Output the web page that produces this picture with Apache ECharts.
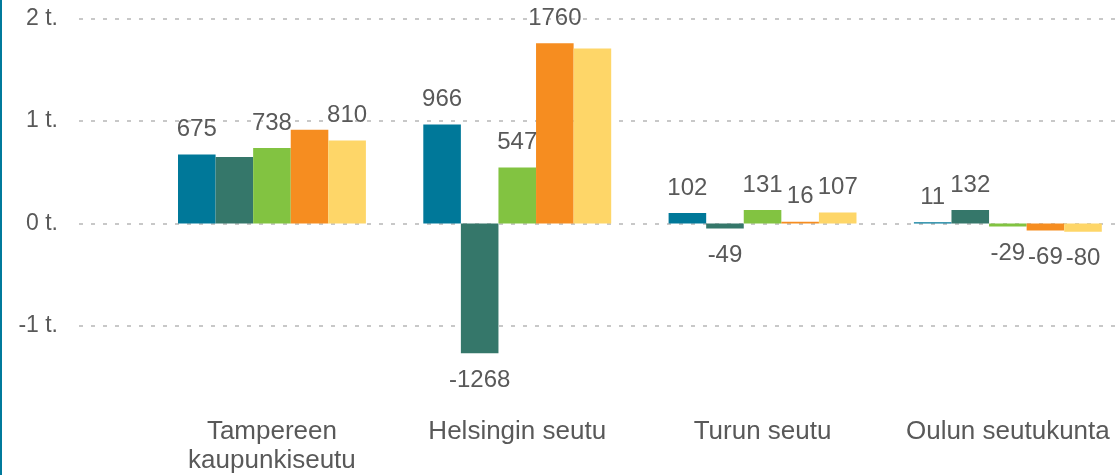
<!DOCTYPE html>
<html>
<head>
<meta charset="utf-8">
<script src="https://cdn.jsdelivr.net/npm/echarts/dist/echarts.min.js"></script>
<style>
  html, body { margin: 0; padding: 0; background: #ffffff; }
  #wrap { position: relative; width: 1120px; height: 475px; overflow: hidden; }
  #chart { width: 1120px; height: 475px; }
  #edge { position: absolute; left: 0; top: 0; width: 2px; height: 475px; background: #007a9c; }
</style>
</head>
<body>
<div id="wrap"><div id="chart"></div><div id="edge"></div></div>
<script>
// ---- data ----
const categories = ['Tampereen\nkaupunkiseutu', 'Helsingin seutu', 'Turun seutu', 'Oulun seutukunta'];
const seriesNames = ['Sarja 1', 'Sarja 2', 'Sarja 3', 'Sarja 4', 'Sarja 5'];
const values1 = [675, 966, 102, 11];
const values2 = [650, -1268, -49, 132];
const values3 = [738, 547, 131, -29];
const values4 = [915, 1760, 16, -69];
const values5 = [810, 1710, 107, -80];
const yTicks = [-2000, -1000, 0, 1000, 2000];
// labels not displayed in the reference: [seriesIndex, categoryIndex]
const hiddenLabels = [[1, 0], [3, 0], [4, 1]];

const allValues = [values1, values2, values3, values4, values5];
const colors = ['#007899', '#35776a', '#82c341', '#f68d20', '#fed668'];
const textColor = '#595959';
const fontFamily = "'Liberation Sans', Arial, sans-serif";

const yMin = yTicks[0], yMax = yTicks[yTicks.length - 1], yStep = yTicks[1] - yTicks[0];

function isHidden(s, c) {
  return hiddenLabels.some(p => p[0] === s && p[1] === c);
}

const barSeries = allValues.map((vals, s) => ({
  name: seriesNames[s],
  type: 'bar',
  xAxisIndex: 0,
  yAxisIndex: 0,
  barGap: '0%',
  barCategoryGap: '23.4%',
  itemStyle: { color: colors[s] },
  data: vals.map((v, c) => ({
    value: v,
    label: {
      show: !isHidden(s, c),
      position: v < 0 ? 'bottom' : 'top',
      distance: v < 0 ? 15 : 13
    }
  })),
  label: {
    color: textColor,
    fontSize: 24,
    fontFamily: fontFamily,
    formatter: p => String(p.value)
  }
}));

const gridTop = 18.7, gridBottom = 46.7;

const option = {
  animation: false,
  backgroundColor: '#ffffff',
  grid: [
    { left: 149.3, width: 981.2, top: gridTop, bottom: gridBottom, containLabel: false, outerBoundsMode: 'none' },
    { left: 79, right: 0, top: gridTop, bottom: gridBottom, containLabel: false, outerBoundsMode: 'none' }
  ],
  xAxis: [
    {
      type: 'category',
      gridIndex: 0,
      data: categories,
      axisLine: { show: false, onZero: false },
      axisTick: { show: false },
      splitLine: { show: false },
      axisLabel: {
        margin: -11,
        color: textColor,
        fontSize: 26,
        lineHeight: 29,
        fontFamily: fontFamily,
        interval: 0,
        hideOverlap: false
      }
    },
    { type: 'value', gridIndex: 1, show: false, min: 0, max: 1 }
  ],
  yAxis: [
    { type: 'value', gridIndex: 0, min: yMin, max: yMax, interval: yStep, show: false },
    {
      type: 'value',
      gridIndex: 1,
      min: yMin,
      max: yMax,
      interval: yStep,
      axisLine: { show: false },
      axisTick: { show: false },
      axisLabel: {
        showMinLabel: false,
        margin: 21,
        color: textColor,
        fontSize: 23,
        fontFamily: fontFamily,
        formatter: v => (v / 1000) + ' t.'
      },
      splitLine: {
        show: true,
        showMinLine: false,
        lineStyle: { color: '#c8c8c8', width: 2, type: [4, 8] }
      }
    }
  ],
  series: barSeries
};

const chart = echarts.init(document.getElementById('chart'), null, { renderer: 'canvas' });
chart.setOption(option);
</script>
</body>
</html>
